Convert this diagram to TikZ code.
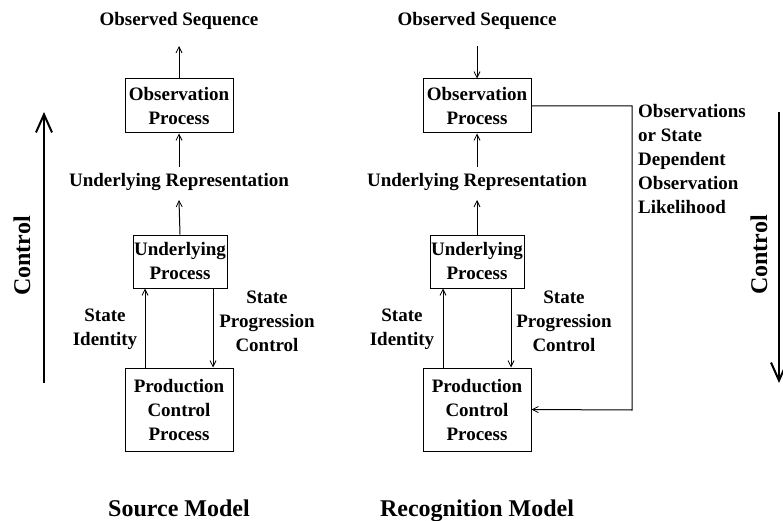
\documentclass[tikz,border=0pt]{standalone}
\usepackage{fontspec}
\setmainfont{Liberation Serif}
\usetikzlibrary{arrows.meta}
\begin{document}
\begin{tikzpicture}[x=1pt,y=-1pt,
  every node/.style={font=\bfseries\fontsize{19}{24}\selectfont, inner sep=0pt, align=center},
  box/.style={draw, line width=1pt},
  big/.style={font=\bfseries\fontsize{24}{28}\selectfont},
  conn/.style={line width=1pt, -{Straight Barb[length=6pt,width=6pt,line width=0.8pt]}},
  ctrl/.style={line width=2.2pt, -{Straight Barb[length=18pt,width=16pt,line width=2pt]}}
]
\useasboundingbox (0,0) rectangle (783,521);
% ---------- Source model ----------
\node (os1) at (179,21) {Observed Sequence};
\node[box, minimum width=108pt, minimum height=54pt] (op1) at (179,106) {Observation\\Process};
\node (ur1) at (179,182) {Underlying Representation};
\node[box, minimum width=94pt, minimum height=53pt] (up1) at (180,261.5) {Underlying\\Process};
\node[box, minimum width=108pt, minimum height=83pt] (pc1) at (179,409.5) {Production\\Control\\Process};
\node (si1) at (105,329) {State\\Identity};
\node (sp1) at (267,321) {State\\Progression\\Control};
\node[big, anchor=base] (sm1) at (179,516) {Source Model};
\coordinate (a1) at (179,46);
\coordinate (b1) at (179,167);
\coordinate (c1) at (179,200);
\draw[conn] (op1.north) -- (a1);
\draw[conn] (b1) -- (op1.south);
\draw[conn] (up1.north) -- (c1);
\draw[conn] (pc1.north -| 145,0) -- (up1.south -| 145,0);
\draw[conn] (up1.south -| 213,0) -- (pc1.north -| 213,0);
% control arrow left
\coordinate (cl0) at (44,383);
\coordinate (cl1) at (44,112);
\draw[ctrl] (cl0) -- (cl1);
\node[big, rotate=90] (ct1) at (22,256) {Control};
% ---------- Recognition model ----------
\node (os2) at (477,21) {Observed Sequence};
\node[box, minimum width=108pt, minimum height=54pt] (op2) at (477,106) {Observation\\Process};
\node (ur2) at (477,182) {Underlying Representation};
\node[box, minimum width=94pt, minimum height=53pt] (up2) at (477,261.5) {Underlying\\Process};
\node[box, minimum width=108pt, minimum height=83pt] (pc2) at (477,409.5) {Production\\Control\\Process};
\node (si2) at (402,329) {State\\Identity};
\node (sp2) at (564,321) {State\\Progression\\Control};
\node[big, anchor=base] (sm2) at (477,516) {Recognition Model};
\node[align=left, anchor=north west, text depth=0pt] (ol) at (638,104) {Observations\\or State\\Dependent\\Observation\\Likelihood};
\coordinate (a2) at (477,46);
\coordinate (b2) at (477,167);
\coordinate (c2) at (477,200);
\coordinate (r1) at (632,106);
\coordinate (r2) at (632,410);
\draw[conn] (a2) -- (op2.north);
\draw[conn] (b2) -- (op2.south);
\draw[conn] (up2.north) -- (c2);
\draw[conn] (pc2.north -| 443,0) -- (up2.south -| 443,0);
\draw[conn] (up2.south -| 511,0) -- (pc2.north -| 511,0);
\draw[conn] (op2.east) -- (r1) -- (r2) -- (pc2.east);
% control arrow right
\coordinate (cr0) at (779,112);
\coordinate (cr1) at (779,383);
\draw[ctrl] (cr0) -- (cr1);
\node[big, rotate=90] (ct2) at (759,255) {Control};
\end{tikzpicture}
\end{document}
